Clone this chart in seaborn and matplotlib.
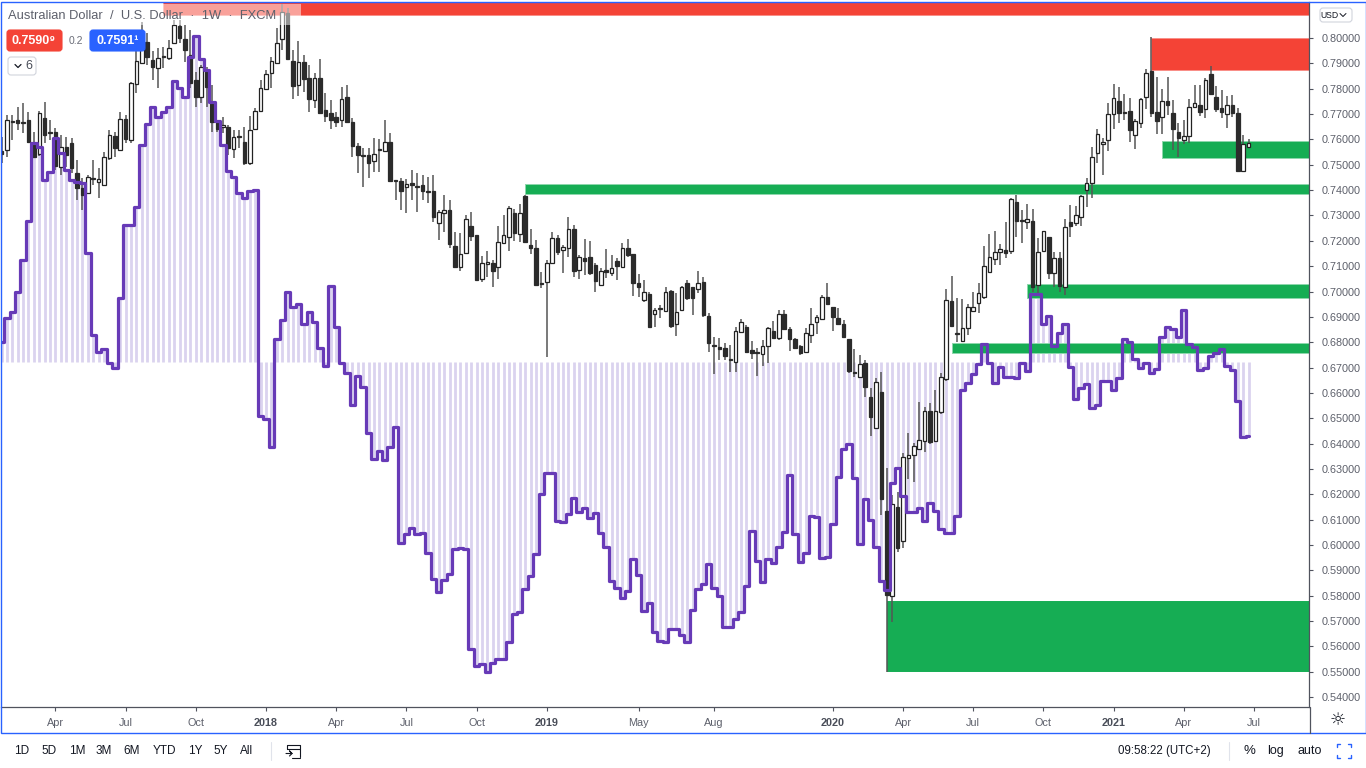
import numpy as np
import pandas as pd
import seaborn as sns
import matplotlib.pyplot as plt
from matplotlib.lines import Line2D
from matplotlib.patches import Rectangle, FancyBboxPatch

# weekly AUD/USD, prices in 1/10000
opens = [7554,7558,7673,7677,7669,7677,7578,7542,7684,7629,
         7629,7491,7570,7586,7468,7408,7389,7448,7432,7420,
         7527,7613,7558,7681,7598,7819,7901,7984,7913,7882,
         7929,7921,7980,8047,7996,7933,7834,7767,7874,7744,
         7669,7649,7649,7562,7613,7590,7507,7641,7712,7799,
         7862,7901,7996,8099,7909,7815,7905,7842,7756,7842,
         7716,7704,7688,7677,7767,7669,7574,7539,7539,7515,
         7562,7554,7590,7440,7436,7412,7428,7416,7420,7397,
         7397,7270,7310,7322,7180,7097,7152,7258,7223,7049,
         7109,7112,7097,7191,7215,7310,7227,7377,7183,7172,
         7034,7038,7112,7211,7164,7172,7247,7085,7132,7136,
         7105,7026,7085,7073,7120,7097,7172,7148,7034,6967,
         6990,6911,6935,6923,7002,6872,6927,7034,7018,7010,
         7038,6903,6789,6781,6777,6734,6722,6840,6860,6769,
         6761,6753,6785,6844,6817,6911,6852,6813,6785,6761,
         6828,6880,6892,6978,6939,6895,6872,6813,6682,6663,
         6718,6584,6462,6604,6134,5799,6150,6016,6343,6355,
         6379,6410,6529,6410,6525,6655,6963,6836,6805,6856,
         6923,6955,6978,7077,7128,7156,7164,7160,7353,7282,
         7274,7278,7026,7160,7215,7073,7132,7018,7274,7270,
         7294,7400,7428,7546,7582,7598,7700,7752,7708,7712,
         7617,7665,7767,7870,7708,7688,7752,7704,7629,7598,
         7613,7728,7736,7720,7858,7767,7724,7700,7736,7704,
         7475,7570]
highs = [7610,7696,7696,7728,7744,7708,7629,7712,7748,7677,
         7645,7617,7610,7606,7519,7448,7460,7519,7487,7550,
         7637,7629,7708,7696,7827,7965,8063,8020,7949,7961,
         7965,7992,8071,8071,8051,8032,7866,7894,7886,7815,
         7677,7688,7657,7637,7637,7649,7692,7724,7834,7874,
         7925,8040,8134,8118,7953,7988,7933,7894,7862,7917,
         7783,7756,7708,7807,7815,7684,7586,7566,7566,7606,
         7602,7677,7625,7440,7448,7444,7479,7468,7460,7452,
         7460,7322,7381,7361,7235,7231,7302,7314,7223,7140,
         7160,7124,7258,7302,7337,7326,7345,7381,7247,7203,
         7077,7124,7235,7223,7183,7294,7262,7144,7207,7199,
         7112,7093,7168,7144,7132,7191,7207,7148,7069,7046,
         6998,6935,6947,7018,7006,6994,7022,7046,7018,7081,
         7057,6915,6821,6817,6797,6789,6860,6892,6868,6805,
         6777,6809,6860,6884,6927,6927,6860,6817,6789,6856,
         6935,6907,6986,7034,6939,6935,6888,6813,6773,6750,
         6730,6619,6659,6682,6304,6197,6209,6363,6442,6402,
         6564,6544,6560,6611,6679,7010,7061,6974,6970,6951,
         6998,7034,7180,7227,7239,7187,7274,7369,7381,7322,
         7345,7326,7211,7239,7215,7156,7156,7286,7341,7337,
         7381,7448,7570,7641,7606,7744,7819,7807,7779,7763,
         7681,7763,7878,8004,7846,7799,7846,7756,7665,7677,
         7759,7815,7815,7842,7890,7811,7795,7771,7775,7724,
         7617,7602]
lows = [7507,7531,7598,7637,7625,7586,7527,7535,7586,7598,
        7479,7460,7491,7468,7361,7322,7385,7420,7369,7416,
        7519,7531,7558,7586,7586,7783,7898,7894,7834,7803,
        7882,7913,7976,7980,7905,7803,7728,7744,7728,7629,
        7629,7625,7539,7527,7566,7499,7499,7637,7708,7795,
        7803,7898,7953,7913,7759,7771,7787,7708,7724,7704,
        7669,7641,7649,7649,7665,7531,7468,7412,7448,7471,
        7471,7554,7432,7361,7322,7310,7361,7314,7361,7349,
        7274,7203,7235,7172,7097,7081,7148,7199,7041,7038,
        7057,7018,7049,7187,7160,7199,7195,7191,7148,7026,
        7014,6742,7112,7144,7073,7136,7057,7049,7065,7065,
        6998,7022,7053,7061,7046,7097,7136,6982,6978,6959,
        6860,6860,6895,6919,6856,6824,6927,6967,6907,6994,
        6899,6761,6675,6730,6730,6682,6682,6836,6757,6734,
        6667,6706,6718,6817,6809,6848,6765,6777,6750,6757,
        6797,6832,6888,6951,6844,6868,6817,6679,6663,6663,
        6584,6430,6462,6118,5499,5696,5972,5988,6260,6248,
        6379,6367,6398,6406,6517,6647,6860,6801,6801,6828,
        6919,6915,6970,7077,7105,7105,7132,7148,7215,7191,
        7247,6998,6994,7160,7049,7018,6998,6986,7215,7258,
        7258,7333,7369,7507,7460,7554,7641,7665,7677,7590,
        7562,7645,7720,7688,7621,7621,7696,7558,7531,7582,
        7586,7724,7692,7684,7775,7708,7684,7645,7688,7471,
        7471,7566]
closes = [7542,7677,7669,7665,7665,7590,7531,7704,7617,7625,
          7495,7570,7539,7487,7408,7381,7452,7444,7444,7531,
          7617,7566,7681,7602,7823,7909,7984,7925,7886,7921,
          7925,7961,8051,8000,7953,7823,7767,7886,7807,7669,
          7641,7657,7566,7610,7610,7507,7637,7712,7803,7858,
          7909,7980,8103,7917,7811,7905,7838,7759,7842,7704,
          7692,7677,7669,7759,7669,7574,7539,7535,7507,7542,
          7558,7590,7436,7436,7397,7424,7420,7412,7397,7393,
          7294,7314,7322,7187,7097,7148,7286,7219,7046,7112,
          7116,7081,7195,7223,7329,7231,7310,7195,7172,7026,
          7030,7112,7211,7156,7176,7247,7081,7136,7120,7073,
          7041,7081,7077,7093,7101,7172,7144,7034,7018,6998,
          6860,6927,6931,6998,6864,6919,7018,6974,6974,7034,
          6907,6797,6785,6773,6746,6730,6844,6880,6761,6757,
          6757,6785,6856,6817,6911,6852,6813,6777,6757,6836,
          6872,6899,6978,6951,6899,6872,6821,6686,6679,6714,
          6623,6505,6643,6181,5803,6162,5988,6347,6355,6391,
          6414,6529,6406,6529,6663,6967,6864,6832,6856,6939,
          6939,6994,7101,7136,7156,7168,7152,7365,7278,7278,
          7286,7018,7156,7239,7073,7132,7022,7255,7258,7302,
          7377,7428,7531,7621,7590,7700,7763,7704,7704,7637,
          7673,7759,7862,7704,7673,7752,7736,7641,7606,7613,
          7728,7744,7708,7834,7779,7720,7708,7736,7704,7475,
          7582,7586]

# purple indicator, read on the price scale, columns hang from indicator_base
indicator = [.6801,.6895,.6919,.6998,.7124,.7278,.7586,.7570,.7440,.7471,
             .7606,.7546,.7479,.7440,.7432,.7428,.7152,.6828,.6761,.6773,
             .6718,.6698,.6974,.7262,.7262,.7333,.7578,.7661,.7728,.7688,
             .7708,.7728,.7830,.7803,.7767,.7925,.8008,.7917,.7874,.7748,
             .7673,.7578,.7475,.7452,.7389,.7369,.7397,.7400,.6509,.6497,
             .6387,.6813,.6888,.6998,.6939,.6951,.6872,.6919,.6880,.6777,
             .6706,.7022,.6860,.6718,.6679,.6552,.6667,.6623,.6442,.6339,
             .6371,.6335,.6387,.6465,.6008,.6043,.6067,.6043,.6047,.5968,
             .5866,.5815,.5862,.5886,.5984,.5988,.5984,.5590,.5523,.5530,
             .5499,.5534,.5550,.5550,.5617,.5728,.5736,.5826,.5878,.5964,
             .6201,.6284,.6284,.6095,.6091,.6122,.6185,.6130,.6146,.6106,
             .6126,.6047,.5992,.5858,.5830,.5791,.5819,.5945,.5882,.5740,
             .5771,.5657,.5621,.5617,.5669,.5669,.5645,.5617,.5744,.5826,
             .5846,.5925,.5830,.5799,.5676,.5676,.5708,.5736,.5838,.6055,
             .5937,.5854,.5945,.5929,.5992,.6051,.6276,.6043,.5933,.5968,
             .6114,.6110,.5949,.5953,.6083,.6268,.6379,.6398,.6264,.6004,
             .6181,.6099,.5992,.5858,.5822,.6245,.6304,.6193,.6130,.6130,
             .6146,.6095,.6166,.6134,.6063,.6047,.6047,.6114,.6611,.6639,
             .6675,.6714,.6793,.6718,.6639,.6702,.6663,.6663,.6659,.6718,
             .6686,.6990,.6990,.6872,.6903,.6785,.6836,.6872,.6702,.6576,
             .6619,.6635,.6540,.6552,.6647,.6647,.6611,.6659,.6813,.6801,
             .6734,.6698,.6718,.6679,.6694,.6821,.6860,.6852,.6821,.6927,
             .6793,.6781,.6690,.6698,.6746,.6757,.6773,.6706,.6690,.6568,
             .6426,.6430]
indicator_base = 0.672

# supply / demand zones: first bar, low, high
zone_start = [30, 213, 97, 215, 190, 176, 164]
zone_low = [0.8091, 0.7874, 0.7385, 0.7527, 0.6974, 0.6757, 0.5503]
zone_high = [0.8160, 0.8000, 0.7424, 0.7595, 0.7030, 0.6797, 0.5779]
zone_colors = ['#f44336', '#f44336', '#16ad54', '#16ad54', '#16ad54', '#16ad54', '#16ad54']
zone_edges = ['#f98f88', '#f98f88', '#8ed8ad', '#8ed8ad', '#8ed8ad', '#8ed8ad', '#16ad54']

price_ticks = [round(0.54 + 0.01 * k, 2) for k in range(27)]
time_ticks = [10, 23, 36, 49, 62, 75, 88, 101, 118, 132, 154, 167, 180, 193, 206, 219, 232]
time_labels = ['Apr', 'Jul', 'Oct', '2018', 'Apr', 'Jul', 'Oct', '2019', 'May', 'Aug',
               '2020', 'Apr', 'Jul', 'Oct', '2021', 'Apr', 'Jul']

range_buttons = ['1D', '5D', '1M', '3M', '6M', 'YTD', '1Y', '5Y', 'All']
range_button_x = [22, 49, 77, 104, 132, 164, 195, 221, 247]

assert len(opens) == len(highs) == len(lows) == len(closes) == len(indicator)

df = pd.DataFrame({'bar': np.arange(len(opens)),
                   'open': np.array(opens) / 10000,
                   'high': np.array(highs) / 10000,
                   'low': np.array(lows) / 10000,
                   'close': np.array(closes) / 10000,
                   'indicator': indicator})
df['up'] = df['close'] >= df['open']

sns.set_theme(style='white')
plt.rcParams['font.family'] = ['Liberation Sans', 'DejaVu Sans']

W, H = 1366, 768
fig = plt.figure(figsize=(W / 100, H / 100), dpi=100, facecolor='white')

def fx(x):
    return x / W

def fy(y):
    return 1 - y / H

def label(x, y, s, size=8.5, color='#131722', ha='center', **kw):
    return fig.text(fx(x), fy(y), s, fontsize=size, color=color, ha=ha, va='center', zorder=8, **kw)

ax = fig.add_axes([fx(1), fy(707), fx(1308), (707 - 2) / H])

# indicator columns
ax.vlines(df['bar'], indicator_base, df['indicator'], color='#dad3ef', lw=2.0, zorder=1)

# zones
x_end = 242.2
for start, lo, hi, col, edge in zip(zone_start, zone_low, zone_high, zone_colors, zone_edges):
    ax.fill_between([start, x_end], lo, hi, facecolor=col, edgecolor=edge, lw=0.7, zorder=2)

# candles
ax.vlines(df['bar'], df['low'], df['high'], color='#555555', lw=1.1, zorder=3)
body_low = df[['open', 'close']].min(axis=1)
body_high = df[['open', 'close']].max(axis=1)
up = df['up']
ax.bar(df.loc[up, 'bar'], (body_high - body_low)[up], bottom=body_low[up], width=0.66,
       facecolor='white', edgecolor='#222222', lw=0.9, zorder=4)
ax.bar(df.loc[~up, 'bar'], (body_high - body_low)[~up], bottom=body_low[~up], width=0.66,
       facecolor='#2b2b2b', edgecolor='#2b2b2b', lw=0.9, zorder=4)

# indicator line
sns.lineplot(data=df, x='bar', y='indicator', ax=ax, color='#673ab7', lw=2.3,
             drawstyle='steps-mid', estimator=None, errorbar=None, legend=False, zorder=5)

ax.set_xlim(-0.093, x_end)
ax.set_ylim(0.53609, 0.81421)
ax.set_xlabel('')
ax.set_ylabel('')

ax.yaxis.tick_right()
ax.set_yticks(price_ticks)
ax.set_yticklabels(['%.5f' % p for p in price_ticks], fontsize=7.8, color='#5d606b')
ax.set_xticks(time_ticks)
ax.set_xticklabels(time_labels, fontsize=7.8, color='#5d606b')
for t, s in zip(ax.get_xticklabels(), time_labels):
    if s.isdigit():
        t.set_fontweight('bold')
        t.set_color('#4a4e59')
ax.tick_params(axis='y', length=3, width=0.8, color='#50535e', pad=6, right=True, left=False)
ax.tick_params(axis='x', length=3, width=0.8, color='#50535e', pad=5, bottom=True)
for side in ['top', 'left']:
    ax.spines[side].set_visible(False)
for side in ['bottom', 'right']:
    ax.spines[side].set_color('#50535e')
    ax.spines[side].set_linewidth(0.9)

# outer frame
fig.add_artist(Rectangle((fx(0.5), fy(733)), fx(1365), (733 - 1.5) / H, transform=fig.transFigure,
                         fill=False, edgecolor='#2962ff', lw=1.0, zorder=7))
fig.add_artist(Line2D([fx(1309.5), fx(1309.5)], [fy(707), fy(733)], color='#50535e', lw=0.9, zorder=7))

# header over the chart
fig.add_artist(Rectangle((fx(1), fy(25)), fx(300), 21 / H, transform=fig.transFigure,
                         facecolor='white', alpha=0.5, edgecolor='none', zorder=6))
label(8, 16, 'Australian Dollar  /  U.S. Dollar  ·  1W  ·  FXCM', size=9.3, color='#5d606b', ha='left')

def button(x0, y0, x1, y1, face, edge=None):
    fig.add_artist(FancyBboxPatch((x0, H - y1), x1 - x0, y1 - y0, boxstyle='round,pad=0,rounding_size=3',
                                  transform=None, facecolor=face, edgecolor=edge or face, lw=0.8, zorder=7))

button(7, 30, 62, 51, '#f44336')
label(34, 40.5, '0.7590⁹', size=9, color='white', fontweight='bold')
label(76, 40.5, '0.2', size=7.5, color='#6a6d78')
button(90, 30, 145, 51, '#2962ff')
label(117.5, 40.5, '0.7591¹', size=9, color='white', fontweight='bold')
button(8, 57, 36, 75, 'white', '#d1d4dc')
label(29, 66, '6', size=9, color='#4a4e59')
fig.add_artist(Line2D([fx(15), fx(18), fx(21)], [fy(64.5), fy(67.5), fy(64.5)], color='#131722', lw=0.9, zorder=8))

# currency button
button(1320, 8, 1352, 22, 'white', '#d1d4dc')
label(1329, 15, 'USD', size=6.2, color='#131722')
fig.add_artist(Line2D([fx(1340), fx(1343), fx(1346)], [fy(13.5), fy(16.5), fy(13.5)], color='#131722', lw=0.7, zorder=8))

# bottom toolbar
for s, x in zip(range_buttons, range_button_x):
    label(x, 751, s)
fig.add_artist(Line2D([fx(270.5), fx(270.5)], [fy(742), fy(760)], color='#e0e3eb', lw=0.8, zorder=7))
fig.add_artist(Line2D([fx(287), fx(287), fx(300), fx(300)], [fy(749), fy(745), fy(745), fy(757)], color='#131722', lw=0.8, zorder=8))
fig.add_artist(Line2D([fx(287), fx(300)], [fy(748.5), fy(748.5)], color='#131722', lw=0.8, zorder=8))
fig.add_artist(Line2D([fx(300), fx(292)], [fy(757.5), fy(757.5)], color='#131722', lw=0.8, zorder=8))
fig.add_artist(Line2D([fx(286), fx(292), fx(289.5), fx(292), fx(289.5)], [fy(753.5), fy(753.5), fy(751), fy(753.5), fy(756)], color='#131722', lw=0.8, zorder=8))

label(1164.5, 751, '09:58:22 (UTC+2)', size=8.3)
fig.add_artist(Line2D([fx(1228.5), fx(1228.5)], [fy(742), fy(760)], color='#e0e3eb', lw=0.8, zorder=7))
label(1249, 751, '%', size=9.5)
label(1276, 751, 'log', size=9)
label(1310, 751, 'auto', size=9)

# fullscreen corners
for cx, sx in [(1337, 1), (1351, -1)]:
    for cy, sy in [(744, 1), (758, -1)]:
        fig.add_artist(Line2D([fx(cx + 3 * sx), fx(cx), fx(cx)], [fy(cy), fy(cy), fy(cy + 3 * sy)],
                              color='#2962ff', lw=1.0, zorder=8))

# settings gear
label(1338, 720, '☼', size=13, color='#131722', family='DejaVu Sans')

fig.savefig('out.png', dpi=100, facecolor='white')
